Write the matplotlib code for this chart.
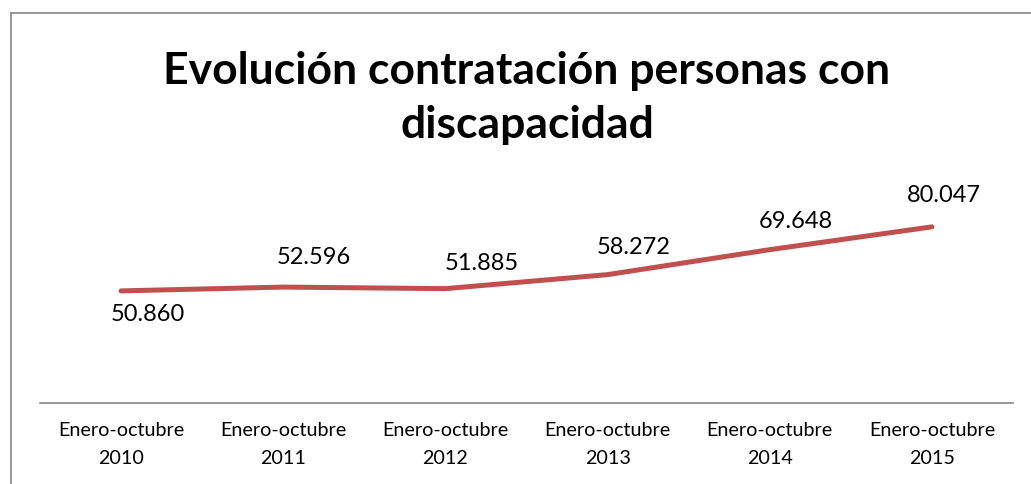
import matplotlib
matplotlib.use("Agg")
import matplotlib.pyplot as plt
from matplotlib.lines import Line2D

categories = ["Enero-octubre\n2010", "Enero-octubre\n2011", "Enero-octubre\n2012",
              "Enero-octubre\n2013", "Enero-octubre\n2014", "Enero-octubre\n2015"]
values = [50860, 52596, 51885, 58272, 69648, 80047]
value_labels = ["50.860", "52.596", "51.885", "58.272", "69.648", "80.047"]
title = "Evolución contratación personas con\ndiscapacidad"

# label offsets in pixels (dx, dy)
label_offsets = [(27, -24), (31, 30), (36, 25), (26, 27), (26, 28), (12, 31)]

W, H = 1031, 484
fig = plt.figure(figsize=(W / 100, H / 100), dpi=100)

ax_left, ax_right = 40, 1013
ax_bottom_px, ax_top_px = 402.5, 205
ax = fig.add_axes([ax_left / W, 1 - ax_bottom_px / H,
                   (ax_right - ax_left) / W, (ax_bottom_px - ax_top_px) / H])

x = [i + 0.5 for i in range(len(values))]
ax.plot(x, values, color="#C0504D", lw=3.6, solid_capstyle="round", solid_joinstyle="round")
ax.set_xlim(0, len(values))
ax.set_ylim(0, 90000)

for xi, v, lab, (dx, dy) in zip(x, values, value_labels, label_offsets):
    ax.annotate(lab, (xi, v), xytext=(dx, dy), textcoords="offset pixels",
                ha="center", va="center", fontsize=17, family="Lato", color="black")

ax.set_xticks(x)
ax.set_xticklabels(categories, fontsize=14.2, family="Lato", linespacing=1.8)
ax.tick_params(axis="x", length=0, pad=14)
ax.set_yticks([])
for s in ["left", "right", "top"]:
    ax.spines[s].set_visible(False)
ax.spines["bottom"].set_color("#868686")
ax.spines["bottom"].set_linewidth(1.2)

fig.text(527 / W, 1 - 98 / H, title, ha="center", va="center", fontsize=32,
         fontweight="bold", family="Lato", linespacing=1.45)

# chart border (left and top edges visible)
fig.add_artist(Line2D([11 / W, 11 / W], [0, 1 - 12.5 / H], color="#868686", lw=1.2,
                      transform=fig.transFigure))
fig.add_artist(Line2D([11 / W, 1], [1 - 12.5 / H, 1 - 12.5 / H], color="#868686", lw=1.2,
                      transform=fig.transFigure))

fig.savefig("out.png", dpi=100)
